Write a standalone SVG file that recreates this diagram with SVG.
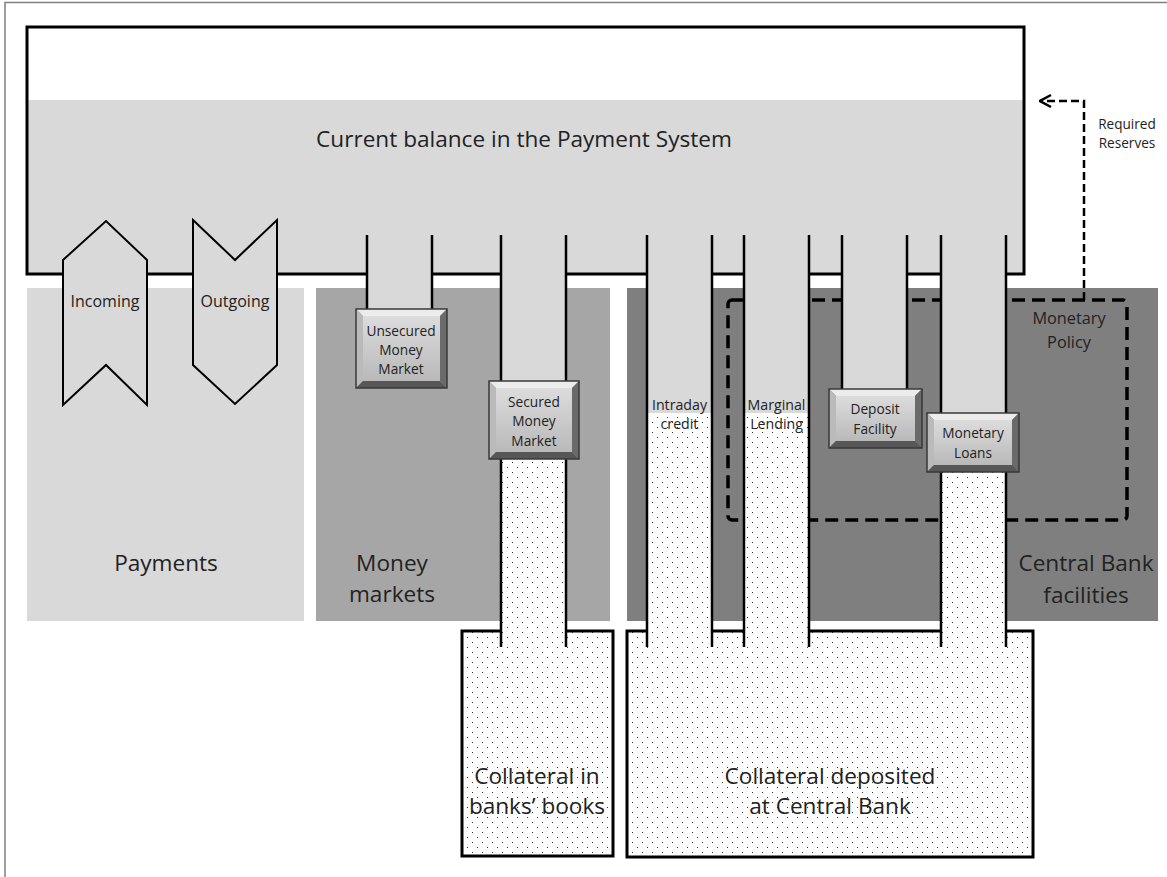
<svg xmlns="http://www.w3.org/2000/svg" width="1167" height="877" viewBox="0 0 1167 877">
<style>
  text { font-family: "Open Sans", Lato, "Liberation Sans", sans-serif; fill: #222; text-anchor: middle; dominant-baseline: central; }
  .big { font-size: 22.6px; }
  .io { font-size: 16px; }
  .mp { font-size: 16.3px; }
  .sm { font-size: 13.7px; }
  .ch { font-size: 14.2px; }
  .xs { font-size: 13.6px; }
  .edge { stroke: #000; stroke-width: 2.5; fill: none; }
  .box { stroke: #000; stroke-width: 3; }
  .gray { fill: #d9d9d9; }
  .dots { fill: url(#dotpat); }
  .face { fill: url(#bevI); }
  .bt { fill: #ececec; }
  .bl { fill: #bababa; }
  .br { fill: #6a6a6a; }
  .bb { fill: #575757; }
  .bo { fill: none; stroke: #383838; stroke-width: 1.5; }
</style>
<defs>
  <pattern id="dotpat" patternUnits="userSpaceOnUse" width="10" height="10">
    <rect width="10" height="10" fill="#fff"/>
    <rect x="2" y="2" width="1" height="1" fill="#333"/>
    <rect x="7" y="7" width="1" height="1" fill="#333"/>
  </pattern>
  <linearGradient id="bevI" x1="0" y1="0" x2="0" y2="1">
    <stop offset="0" stop-color="#dcdcdc"/>
    <stop offset="1" stop-color="#b9b9b9"/>
  </linearGradient>
  <marker id="chev" markerUnits="userSpaceOnUse" markerWidth="16" markerHeight="16" refX="15" refY="8" orient="auto" viewBox="0 0 16 16">
    <path d="M4,2 L15,8 L4,14" fill="none" stroke="#000" stroke-width="2.5"/>
  </marker>
</defs>

<!-- frame -->
<path d="M5,877 V2.5 H1167" fill="none" stroke="#7f7f7f" stroke-width="1.5"/>

<!-- panels -->
<g id="payments">
  <rect x="27" y="288" width="277" height="333" fill="#d9d9d9"/>
  <text class="big" x="166" y="562">Payments</text>
</g>
<g id="money-markets">
  <rect x="316" y="288" width="294" height="333" fill="#a6a6a6"/>
  <text class="big" x="392" y="562">Money</text>
  <text class="big" x="392" y="593">markets</text>
</g>
<g id="central-bank-facilities">
  <rect x="627" y="288" width="531" height="333" fill="#7f7f7f"/>
  <text class="big" x="1086" y="562">Central Bank</text>
  <text class="big" x="1086" y="594">facilities</text>
</g>

<!-- monetary policy dashed -->
<g id="monetary-policy">
  <rect x="728" y="300" width="399" height="220" rx="4" fill="none" stroke="#000" stroke-width="3.5" stroke-dasharray="13,7"/>
  <text class="mp" x="1069" y="318">Monetary</text>
  <text class="mp" x="1069" y="342">Policy</text>
</g>

<!-- main box -->
<g id="current-balance">
  <rect x="27" y="27" width="997" height="247" fill="#fff"/>
  <rect x="27" y="100" width="997" height="174" fill="#d9d9d9"/>
  <rect x="27" y="27" width="997" height="247" fill="none" class="box"/>
  <text class="big" x="524" y="138">Current balance in the Payment System</text>
</g>

<!-- collateral boxes -->
<g id="collateral-banks">
  <rect x="462" y="631" width="151" height="225" class="box dots"/>
  <text class="big" x="537" y="775">Collateral in</text>
  <text class="big" x="537" y="805">banks’ books</text>
</g>
<g id="collateral-cb">
  <rect x="627" y="631" width="406" height="226" class="box dots"/>
  <text class="big" x="830" y="775">Collateral deposited</text>
  <text class="big" x="830" y="805">at Central Bank</text>
</g>

<!-- connectors: channels -->
<g id="connectors">
  <!-- unsecured -->
  <rect x="368" y="236" width="63" height="73" class="gray"/>
  <path class="edge" d="M367,235 V309 M432,235 V309"/>
  <!-- secured -->
  <rect x="502" y="236" width="63" height="146" class="gray"/>
  <rect x="502" y="459" width="63" height="186" class="dots"/>
  <path class="edge" d="M501,235 V647 M566,235 V647"/>
  <!-- intraday -->
  <rect x="648" y="236" width="63" height="177" class="gray"/>
  <rect x="648" y="413" width="63" height="232" class="dots"/>
  <path class="edge" d="M647,235 V647 M712,235 V647"/>
  <!-- marginal -->
  <rect x="745" y="236" width="63" height="177" class="gray"/>
  <rect x="745" y="413" width="63" height="232" class="dots"/>
  <path class="edge" d="M744,235 V647 M809,235 V647"/>
  <!-- deposit -->
  <rect x="843" y="236" width="63" height="153" class="gray"/>
  <path class="edge" d="M842,235 V389 M907,235 V389"/>
  <!-- monetary loans -->
  <rect x="942" y="236" width="63" height="177" class="gray"/>
  <rect x="942" y="472" width="63" height="173" class="dots"/>
  <path class="edge" d="M941,235 V647 M1006,235 V647"/>
  <!-- required reserves -->
  <path d="M1084,300 V101 H1040" fill="none" stroke="#000" stroke-width="2.5" stroke-dasharray="8,4" marker-end="url(#chev)"/>
</g>

<g id="required-reserves">
  <text class="xs" x="1127" y="123">Required</text>
  <text class="xs" x="1127" y="142">Reserves</text>
</g>

<g id="intraday-credit">
  <text class="ch" x="679.5" y="404">Intraday</text>
  <text class="ch" x="679.5" y="423">credit</text>
</g>
<g id="marginal-lending">
  <text class="ch" x="776.5" y="404">Marginal</text>
  <text class="ch" x="776.5" y="423">Lending</text>
</g>

<!-- incoming / outgoing -->
<g id="incoming">
  <polygon points="63,260 106,221 147,260 147,405 106,365 63,405" fill="#d9d9d9" stroke="#000" stroke-width="2"/>
  <text class="io" x="105" y="301">Incoming</text>
</g>
<g id="outgoing">
  <polygon points="193,220 235,260 277,220 277,365 235,404 193,365" fill="#d9d9d9" stroke="#000" stroke-width="2"/>
  <text class="io" x="235" y="301">Outgoing</text>
</g>

<!-- buttons -->
<g id="unsecured-money-market">
  <rect x="363" y="316" width="77" height="65" class="face"/>
  <polygon class="bt" points="356,309 447,309 440,316 363,316"/>
  <polygon class="bl" points="356,309 363,316 363,381 356,388"/>
  <polygon class="br" points="447,309 447,388 440,381 440,316"/>
  <polygon class="bb" points="356,388 363,381 440,381 447,388"/>
  <rect x="356" y="309" width="91" height="79" class="bo"/>
  <text class="sm" x="401" y="330">Unsecured</text>
  <text class="sm" x="401" y="349">Money</text>
  <text class="sm" x="401" y="368">Market</text>
</g>
<g id="secured-money-market">
  <rect x="496" y="388" width="76" height="64" class="face"/>
  <polygon class="bt" points="489,381 579,381 572,388 496,388"/>
  <polygon class="bl" points="489,381 496,388 496,452 489,459"/>
  <polygon class="br" points="579,381 579,459 572,452 572,388"/>
  <polygon class="bb" points="489,459 496,452 572,452 579,459"/>
  <rect x="489" y="381" width="90" height="78" class="bo"/>
  <text class="sm" x="534" y="401">Secured</text>
  <text class="sm" x="534" y="420">Money</text>
  <text class="sm" x="534" y="440">Market</text>
</g>
<g id="deposit-facility">
  <rect x="836" y="396" width="79" height="45" class="face"/>
  <polygon class="bt" points="829,389 922,389 915,396 836,396"/>
  <polygon class="bl" points="829,389 836,396 836,441 829,448"/>
  <polygon class="br" points="922,389 922,448 915,441 915,396"/>
  <polygon class="bb" points="829,448 836,441 915,441 922,448"/>
  <rect x="829" y="389" width="93" height="59" class="bo"/>
  <text class="sm" x="875" y="408">Deposit</text>
  <text class="sm" x="875" y="428">Facility</text>
</g>
<g id="monetary-loans">
  <rect x="934" y="420" width="78" height="45" class="face"/>
  <polygon class="bt" points="927,413 1019,413 1012,420 934,420"/>
  <polygon class="bl" points="927,413 934,420 934,465 927,472"/>
  <polygon class="br" points="1019,413 1019,472 1012,465 1012,420"/>
  <polygon class="bb" points="927,472 934,465 1012,465 1019,472"/>
  <rect x="927" y="413" width="92" height="59" class="bo"/>
  <text class="sm" x="973" y="432">Monetary</text>
  <text class="sm" x="973" y="452">Loans</text>
</g>
</svg>
